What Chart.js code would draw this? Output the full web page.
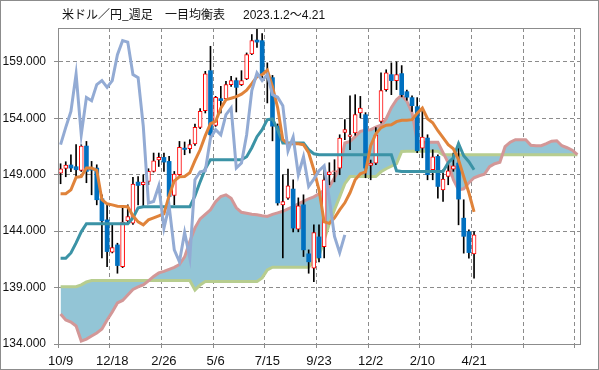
<!DOCTYPE html>
<html>
<head>
<meta charset="utf-8">
<script src="https://cdn.jsdelivr.net/npm/chart.js@4.4.0/dist/chart.umd.min.js"></script>
<style>
  html, body { margin: 0; padding: 0; background: #fff; }
</style>
</head>
<body>
<canvas id="chart" width="599" height="370"></canvas>
<script>
// weekly axis: one label every 10 weeks, last two gridlines unlabeled
const tickLabels = ['10/9', '12/18', '2/26', '5/6', '7/15', '9/23', '12/2', '2/10', '4/21', '', ''];
const yTicks = [134, 139, 144, 149, 154, 159];
const titleParts = ['米ドル／円_週足', '一目均衡表', '2023.1.2～4.21'];

const open = [
  149.13, 149.55, 149.86, 149.71, 149.39, 151.54, 149.55, 149.59, 146.87, 145.00,
  142.14, 142.78, 140.86, 144.90, 144.71, 148.35, 148.11, 148.40, 149.29, 150.30,
  150.53, 150.18, 147.16, 149.00, 151.36, 151.30, 151.72, 153.19, 154.67, 158.22,
  153.37, 155.74, 155.74, 156.98, 157.34, 156.98, 157.49, 159.70, 160.93, 160.88,
  157.80, 157.60, 153.30, 146.33, 146.93, 147.73, 144.18, 146.33, 141.99, 140.72,
  143.49, 142.63, 149.00, 149.30, 149.59, 152.75, 152.39, 152.70, 154.47, 154.32,
  149.82, 150.03, 153.72, 156.54, 157.87, 157.34, 157.96, 156.36, 155.83, 155.03,
  151.36, 152.25, 149.44, 150.62, 147.66, 148.84, 149.50, 150.03, 145.15, 143.96,
  141.99
];
const high = [
  149.97, 150.15, 150.77, 151.66, 151.66, 151.95, 150.18, 149.88, 147.22, 146.33,
  144.56, 142.93, 146.07, 146.33, 148.76, 148.84, 149.00, 149.53, 150.92, 150.92,
  150.92, 150.62, 149.29, 151.95, 151.90, 152.10, 153.49, 154.85, 158.16, 160.38,
  155.94, 156.83, 157.27, 157.72, 157.58, 158.22, 159.79, 161.42, 161.95, 161.50,
  158.91, 157.80, 153.50, 149.00, 149.50, 148.55, 146.95, 147.22, 142.34, 144.56,
  144.56, 149.44, 150.06, 150.33, 152.54, 153.88, 156.00, 156.09, 155.94, 154.50,
  150.30, 153.17, 158.02, 158.30, 158.91, 159.00, 158.67, 156.50, 156.00, 155.83,
  154.76, 152.54, 151.21, 150.77, 149.44, 150.03, 150.92, 151.81, 146.78, 144.12,
  143.96
];
const low = [
  148.20, 148.82, 149.26, 148.82, 149.29, 148.29, 147.22, 146.33, 141.63, 140.86,
  142.07, 140.27, 140.77, 144.71, 144.60, 146.33, 146.18, 148.11, 149.23, 149.73,
  149.29, 146.33, 146.33, 148.90, 150.77, 150.92, 151.60, 153.08, 154.47, 152.39,
  153.28, 154.47, 155.62, 156.83, 154.56, 156.90, 157.43, 159.64, 160.29, 157.60,
  155.36, 152.00, 146.30, 141.63, 146.80, 143.94, 143.94, 141.75, 140.27, 139.53,
  141.28, 141.63, 148.11, 148.37, 149.00, 152.10, 151.21, 152.50, 154.05, 148.73,
  148.55, 149.90, 153.60, 156.40, 156.09, 156.54, 155.90, 155.60, 154.60, 150.95,
  150.50, 148.55, 148.55, 146.93, 146.63, 148.11, 149.30, 144.56, 142.05, 141.60,
  139.83
];
const close = [
  149.53, 149.86, 149.59, 149.44, 151.54, 149.29, 149.40, 146.78, 144.91, 142.19,
  142.54, 140.95, 144.80, 145.30, 148.17, 148.05, 148.35, 149.29, 150.24, 150.53,
  150.12, 147.07, 149.06, 151.42, 151.24, 151.66, 153.19, 154.61, 157.93, 152.54,
  155.85, 155.56, 156.98, 157.34, 156.74, 157.34, 159.64, 160.88, 160.75, 157.87,
  157.60, 153.30, 146.50, 146.63, 148.02, 144.27, 146.24, 142.34, 141.28, 143.88,
  141.63, 148.55, 149.26, 149.35, 152.25, 152.99, 152.54, 154.32, 154.91, 149.59,
  150.03, 152.54, 156.45, 158.02, 157.34, 157.87, 156.09, 155.87, 155.12, 151.12,
  152.34, 149.00, 150.59, 147.96, 148.61, 149.35, 149.79, 146.84, 143.54, 142.10,
  143.67
];

// 転換線
const tenkan = [
  147.31, 147.31, 147.66, 148.77, 148.84, 149.59, 149.59, 149.39, 146.78, 146.42,
  146.33, 146.20, 146.18, 146.16, 145.36, 144.82, 144.56, 145.00, 145.18, 145.36,
  145.54, 147.13, 148.46, 148.82, 148.84, 149.17, 150.24, 151.21, 152.46, 153.52,
  153.73, 154.90, 155.65, 155.78, 155.92, 156.14, 156.49, 157.07, 157.69, 157.87,
  158.27, 156.80, 154.94, 152.10, 151.75, 151.75, 151.75, 151.66, 150.95, 149.44,
  147.66, 144.82, 144.69, 145.18, 145.89, 146.51, 147.40, 148.55, 149.08, 149.26,
  151.57, 152.63, 153.17, 153.39, 153.43, 153.70, 153.83, 153.83, 153.88, 154.45,
  154.90, 153.96, 153.61, 152.90, 152.28, 151.66, 151.30, 150.33, 148.82, 147.40,
  145.71
];
// 基準線
const kijun = [
  141.60, 141.60, 142.07, 142.96, 143.94, 144.65, 144.65, 144.65, 144.65, 144.65,
  144.65, 144.65, 144.65, 144.65, 145.18, 146.07, 146.16, 146.16, 146.16, 146.16,
  146.16, 146.16, 146.16, 146.16, 146.16, 146.16, 147.13, 148.37, 149.53, 150.33,
  150.33, 150.33, 150.33, 150.33, 150.33, 150.33, 150.59, 151.39, 152.37, 152.99,
  153.88, 153.94, 152.99, 151.81, 151.81, 151.81, 151.81, 151.81, 151.21, 150.86,
  150.77, 150.77, 150.77, 150.77, 150.77, 150.77, 150.77, 150.77, 150.77, 150.77,
  150.77, 150.77, 150.77, 150.77, 150.77, 149.35, 149.29, 149.29, 149.29, 149.29,
  149.29, 149.29, 149.29, 149.29, 149.29, 150.06, 150.50, 151.75, 150.68, 150.15,
  149.44
];
// 遅行スパン
const chikou = [
  151.66, 153.19, 154.61, 157.93, 152.54, 155.85, 155.56, 156.98, 157.34, 156.74,
  157.34, 159.64, 160.88, 160.75, 157.87, 157.60, 153.30, 146.50, 146.63, 148.02,
  144.27, 146.24, 142.34, 141.28, 143.88, 141.63, 148.55, 149.26, 149.35, 152.25,
  152.99, 152.54, 154.32, 154.91, 149.59, 150.03, 152.54, 156.45, 158.02, 157.34,
  157.87, 156.09, 155.87, 155.12, 151.12, 152.34, 149.00, 150.59, 147.96, 148.61,
  149.35, 149.79, 146.84, 143.54, 142.10, 143.67
];
// 先行スパン1
const spanA = [
  139.08, 139.08, 139.08, 139.08, 139.24, 139.50, 139.62, 139.62, 139.62, 139.62,
  139.62, 139.62, 139.62, 139.62, 139.62, 139.62, 139.62, 139.62, 139.62, 139.62,
  139.62, 139.62, 139.62, 139.62, 139.62, 139.62, 138.79, 139.24, 139.53, 139.53,
  139.53, 139.53, 139.53, 139.53, 139.53, 139.53, 139.53, 139.53, 139.53, 139.86,
  140.57, 140.81, 140.81, 140.81, 140.81, 140.81, 140.81, 140.81, 140.81, 141.36,
  141.81, 143.23, 144.65, 145.89, 147.04, 148.20, 148.84, 148.84, 148.84, 148.84,
  148.84, 148.84, 149.26, 149.53, 149.75, 149.97, 151.06, 151.08, 151.08, 151.08,
  151.08, 151.08, 151.08, 151.08, 150.77, 150.77, 150.77, 150.77, 150.77, 150.77,
  150.77, 150.77, 150.77, 150.77, 150.77, 150.77, 150.77, 150.77, 150.77, 150.77,
  150.77, 150.77, 150.77, 150.77, 150.77, 150.77, 150.77, 150.77, 150.77, 150.77,
  150.77
];
// 先行スパン2
const spanB = [
  136.66, 136.13, 135.95, 135.60, 134.27, 134.44, 134.71, 134.98, 135.33, 136.13,
  136.84, 137.64, 137.86, 138.35, 138.84, 139.06, 139.24, 139.59, 139.99, 140.30,
  140.43, 140.61, 140.79, 141.05, 141.72, 143.08, 144.29, 145.09, 145.49, 145.89,
  146.60, 147.07, 147.22, 146.91, 146.07, 145.67, 145.58, 145.49, 145.45, 145.36,
  145.30, 145.49, 145.62, 145.76, 145.98, 146.18, 146.42, 146.64, 146.87, 147.04,
  147.31, 147.62, 147.93, 148.73, 149.62, 151.81, 151.95, 152.37, 152.84, 152.94,
  152.99, 153.21, 153.39, 153.96, 154.94, 155.65, 156.05, 155.51, 154.50, 151.95,
  151.88, 151.88, 151.88, 151.88, 150.95, 150.06, 148.55, 147.66, 147.75, 148.29,
  148.73, 148.91, 149.04, 149.71, 149.97, 150.10, 151.48, 151.88, 152.10, 152.10,
  152.10, 151.61, 151.57, 151.57, 151.75, 151.97, 152.01, 151.57, 151.39, 151.17,
  150.77
];

const GRID = '#8c8c8c';
const labels = spanA.map((_, i) => (i % 10 === 0 ? tickLabels[i / 10] : ''));

const frame = {
  id: 'frame',
  beforeDraw(chart) {
    const c = chart.ctx;
    c.save();
    c.fillStyle = '#fff';
    c.fillRect(0, 0, chart.width, chart.height);
    c.restore();
  },
  afterDraw(chart) {
    const c = chart.ctx;
    const a = chart.chartArea;
    c.save();
    c.strokeStyle = GRID;
    c.lineWidth = 1;
    c.strokeRect(Math.round(a.left) + 0.5, Math.round(a.top) + 0.5,
      Math.round(a.right - a.left), Math.round(a.bottom - a.top));
    c.strokeRect(0.5, 0.5, chart.width - 1, chart.height - 1);
    c.fillStyle = '#111';
    c.textBaseline = 'alphabetic';
    c.font = '12px "Noto Sans CJK JP", sans-serif';
    c.fillText(titleParts[0], 62, 18.5);
    c.fillText(titleParts[1], 165, 18.5);
    c.font = '12px "Liberation Sans", "Noto Sans CJK JP", sans-serif';
    c.fillText(titleParts[2], 243, 18.5);
    c.restore();
  }
};

const up = (i) => close[i] >= open[i];

new Chart(document.getElementById('chart'), {
  type: 'bar',
  data: {
    labels,
    datasets: [
      {
        type: 'line', label: '先行スパン1', data: spanA, order: 7,
        borderColor: '#b7cd8f', borderWidth: 3, pointRadius: 0, fill: false
      },
      {
        type: 'line', label: '先行スパン2', data: spanB, order: 6,
        borderColor: '#d39797', borderWidth: 3, pointRadius: 0,
        fill: '-1', backgroundColor: '#93c5d6'
      },
      {
        type: 'bar', label: 'wick', data: low.map((l, i) => [l, high[i]]), order: 5,
        grouped: false, barThickness: 1, backgroundColor: '#000', borderWidth: 0
      },
      {
        type: 'bar', label: 'body', data: open.map((o, i) => [o, close[i]]), order: 4,
        grouped: false, barThickness: 4, borderSkipped: false,
        backgroundColor: (ctx) => (up(ctx.dataIndex) ? '#fff' : '#0070c0'),
        borderColor: (ctx) => (up(ctx.dataIndex) ? '#ff0000' : '#0070c0'),
        borderWidth: (ctx) => (up(ctx.dataIndex) ? 1 : 0)
      },
      {
        type: 'line', label: '基準線', data: kijun, order: 3,
        borderColor: '#3b93a6', borderWidth: 3, pointRadius: 0, fill: false
      },
      {
        type: 'line', label: '転換線', data: tenkan, order: 2,
        borderColor: '#e0833a', borderWidth: 3, pointRadius: 0, fill: false
      },
      {
        type: 'line', label: '遅行スパン', data: chikou, order: 1,
        borderColor: '#93abd4', borderWidth: 3, pointRadius: 0, fill: false
      }
    ]
  },
  options: {
    responsive: false,
    animation: false,
    layout: { padding: { top: 28, right: 19, left: 0, bottom: 0 } },
    plugins: {
      legend: { display: false },
      tooltip: { enabled: false },
      filler: { drawTime: 'beforeDatasetsDraw' }
    },
    scales: {
      x: {
        type: 'category',
        offset: true,
        afterFit: (s) => { s.height = 26; },
        grid: {
          offset: true,
          color: (ctx) => (ctx.index % 10 === 0 && ctx.index > 0 && ctx.index <= 100 ? GRID : 'rgba(0,0,0,0)'),
          tickColor: (ctx) => (ctx.index % 10 === 0 && ctx.index <= 100 ? GRID : 'rgba(0,0,0,0)'),
          tickLength: 4
        },
        border: { color: GRID, dash: [4, 3] },
        ticks: {
          autoSkip: false, maxRotation: 0, minRotation: 0, padding: 6,
          color: '#111', font: { size: 13, family: '"Liberation Sans", Arial, sans-serif' },
          callback: (v, i) => labels[i]
        }
      },
      y: {
        type: 'linear',
        min: 134,
        max: 162,
        afterFit: (s) => { s.width = 58; },
        afterBuildTicks: (s) => { s.ticks = yTicks.map((v) => ({ value: v })); },
        grid: { color: GRID, tickColor: GRID, tickLength: 4 },
        border: { color: GRID, dash: [4, 3] },
        ticks: {
          padding: 8,
          color: '#111', font: { size: 12, family: '"Liberation Sans", Arial, sans-serif' },
          callback: (v) => Number(v).toFixed(3)
        }
      }
    }
  },
  plugins: [frame]
});
</script>
</body>
</html>
